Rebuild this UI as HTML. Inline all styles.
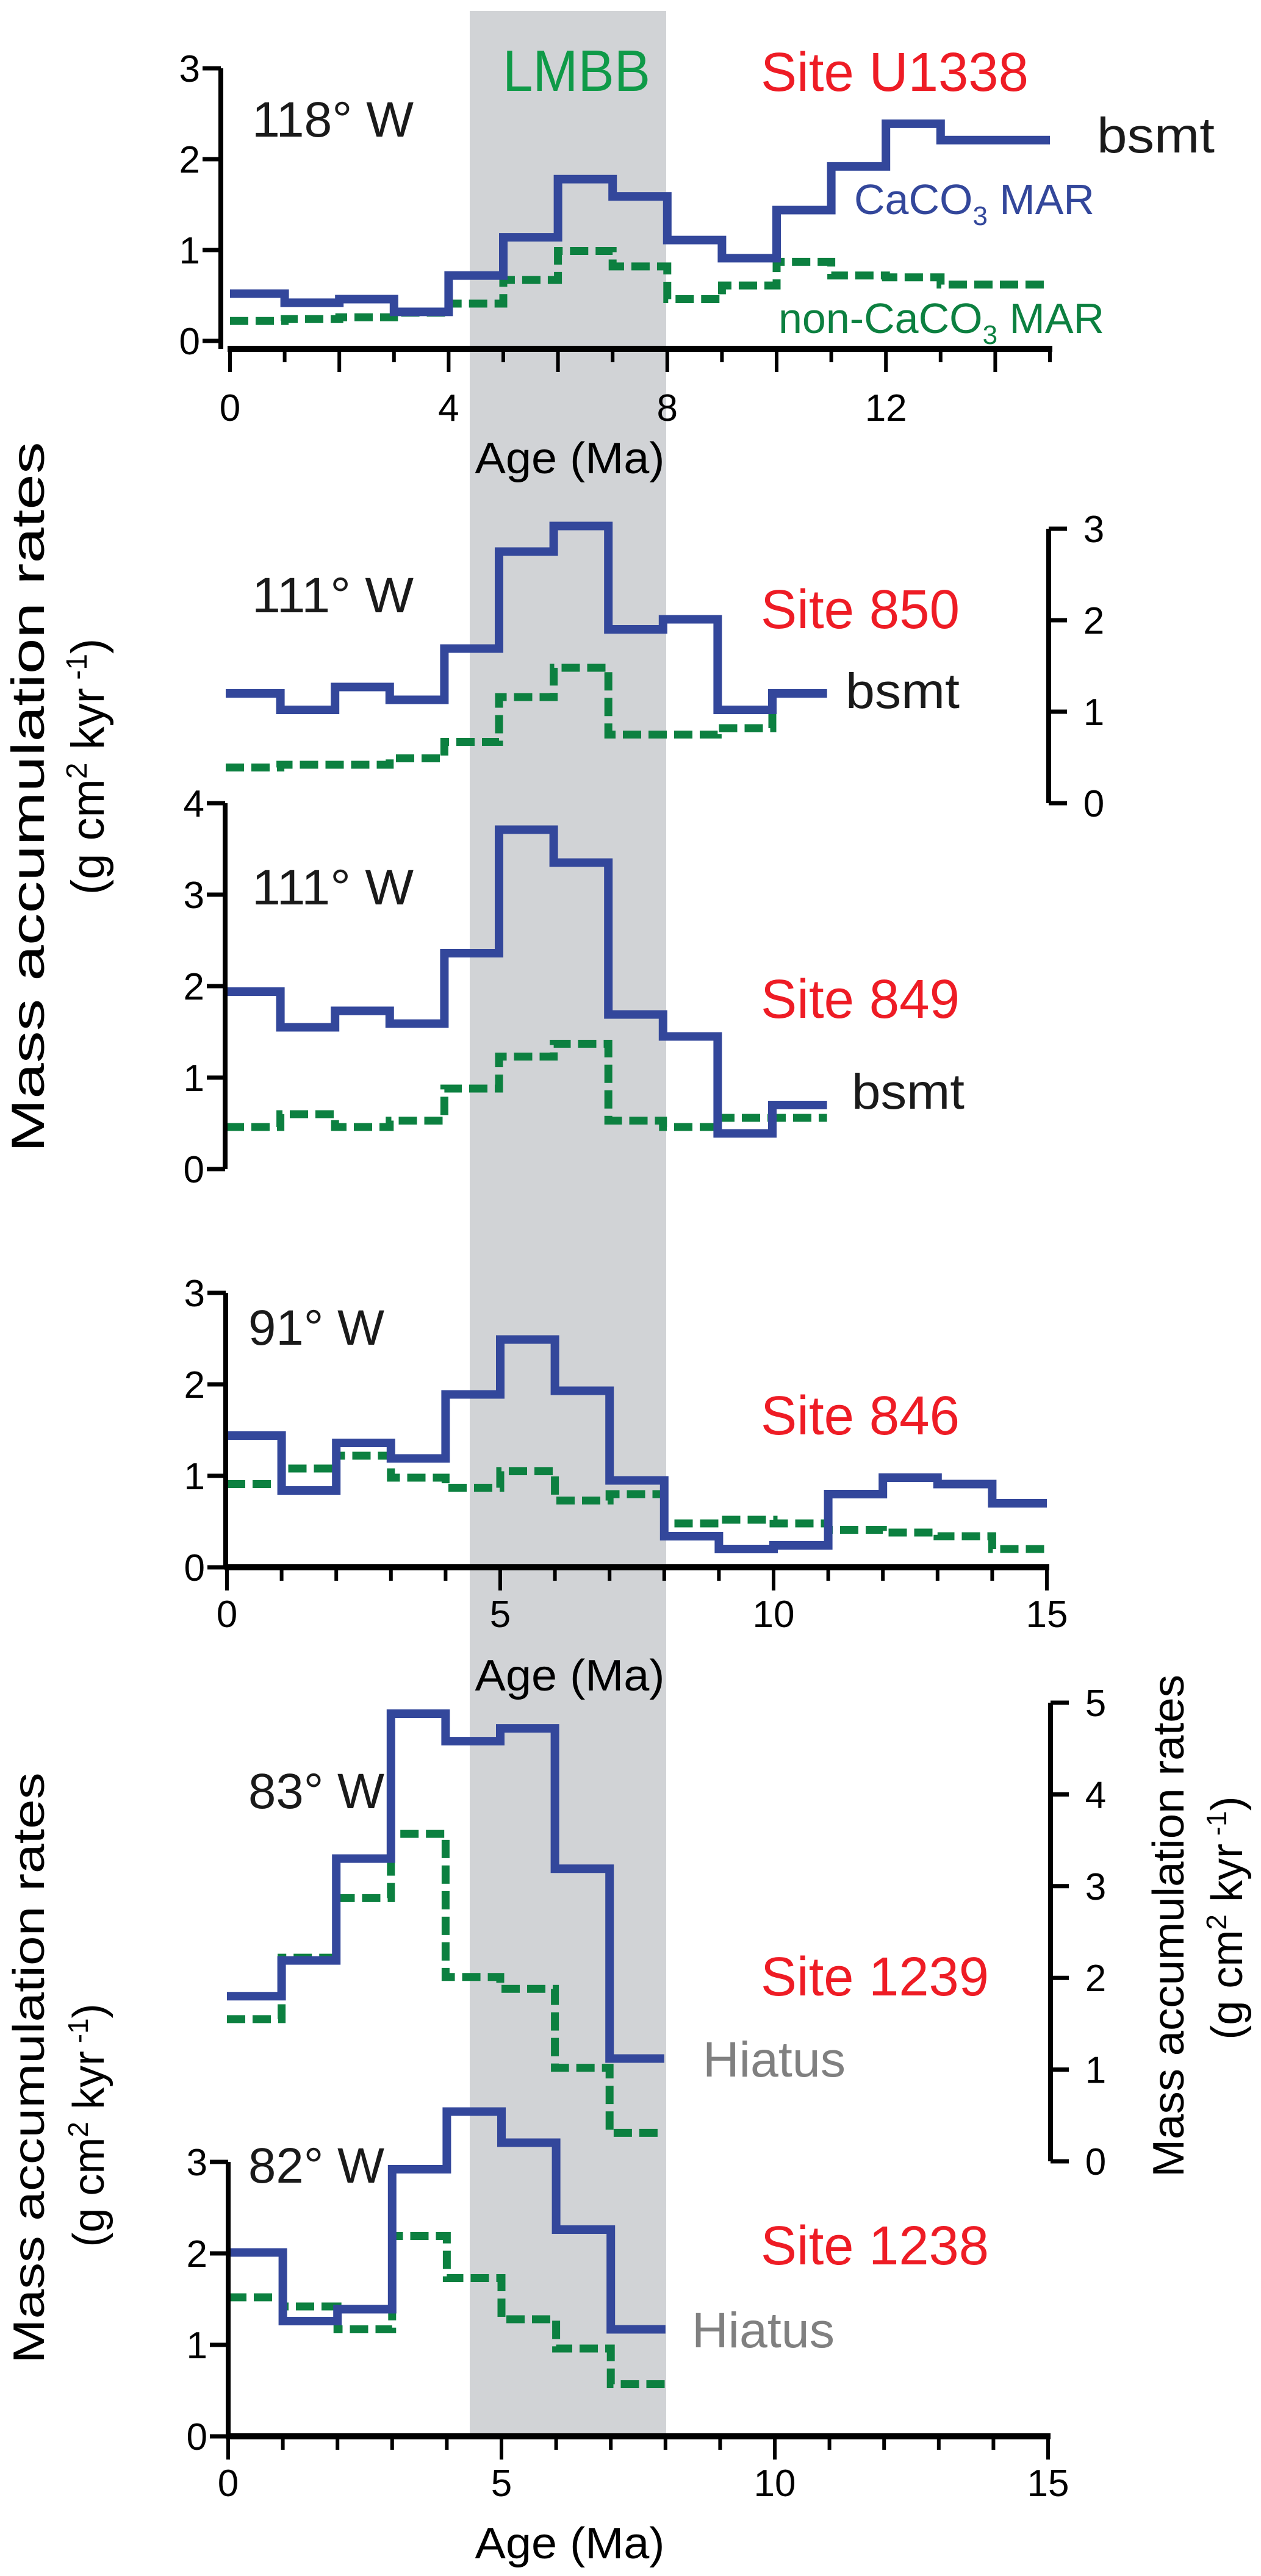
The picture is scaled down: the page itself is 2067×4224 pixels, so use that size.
<!DOCTYPE html>
<html><head><meta charset="utf-8"><style>
html,body{margin:0;padding:0;background:#fff;}
svg{display:block;}
text{font-family:"Liberation Sans",sans-serif;}
</style></head>
<body>
<svg id="fig" xmlns="http://www.w3.org/2000/svg" width="2067" height="4224" viewBox="0 0 2067 4224">
<rect x="770" y="18" width="322" height="3974" fill="#d1d3d6"/>
<g id="marks"></g>
<g id="axes" stroke="#000" fill="none" stroke-width="8"></g>
<g id="labels">
<text x="824" y="149" font-size="96" fill="#0f9a48" textLength="242" lengthAdjust="spacingAndGlyphs">LMBB</text>
<text x="1247" y="149" font-size="90" fill="#ee1c25" textLength="439" lengthAdjust="spacingAndGlyphs">Site U1338</text>
<text x="413" y="224" font-size="82" fill="#1a1a1a" textLength="265" lengthAdjust="spacingAndGlyphs">118° W</text>
<text x="1798" y="250" font-size="82" fill="#1a1a1a" textLength="193" lengthAdjust="spacingAndGlyphs">bsmt</text>
<text x="1400" y="351" font-size="70" fill="#33479b">CaCO<tspan font-size="44" dy="18">3</tspan><tspan dy="-18"> MAR</tspan></text>
<text x="1276" y="546" font-size="70" fill="#0c8040">non-CaCO<tspan font-size="44" dy="18">3</tspan><tspan dy="-18"> MAR</tspan></text>
<text x="934" y="776" font-size="72" text-anchor="middle" fill="#000" textLength="311" lengthAdjust="spacingAndGlyphs">Age (Ma)</text>

<text x="413" y="1004" font-size="82" fill="#1a1a1a" textLength="265" lengthAdjust="spacingAndGlyphs">111° W</text>
<text x="1247" y="1030" font-size="90" fill="#ee1c25" textLength="326" lengthAdjust="spacingAndGlyphs">Site 850</text>
<text x="1386" y="1161" font-size="82" fill="#1a1a1a" textLength="187" lengthAdjust="spacingAndGlyphs">bsmt</text>

<text x="413" y="1483" font-size="82" fill="#1a1a1a" textLength="265" lengthAdjust="spacingAndGlyphs">111° W</text>
<text x="1247" y="1669" font-size="90" fill="#ee1c25" textLength="326" lengthAdjust="spacingAndGlyphs">Site 849</text>
<text x="1396" y="1818" font-size="82" fill="#1a1a1a" textLength="185" lengthAdjust="spacingAndGlyphs">bsmt</text>

<text x="407" y="2205" font-size="82" fill="#1a1a1a" textLength="223" lengthAdjust="spacingAndGlyphs">91° W</text>
<text x="1247" y="2352" font-size="90" fill="#ee1c25" textLength="326" lengthAdjust="spacingAndGlyphs">Site 846</text>
<text x="934" y="2772" font-size="72" text-anchor="middle" fill="#000" textLength="311" lengthAdjust="spacingAndGlyphs">Age (Ma)</text>

<text x="407" y="2965" font-size="82" fill="#1a1a1a" textLength="223" lengthAdjust="spacingAndGlyphs">83° W</text>
<text x="1247" y="3272" font-size="90" fill="#ee1c25" textLength="374" lengthAdjust="spacingAndGlyphs">Site 1239</text>
<text x="1152" y="3405" font-size="82" fill="#808080" textLength="234" lengthAdjust="spacingAndGlyphs">Hiatus</text>

<text x="407" y="3579" font-size="82" fill="#1a1a1a" textLength="223" lengthAdjust="spacingAndGlyphs">82° W</text>
<text x="1247" y="3713" font-size="90" fill="#ee1c25" textLength="374" lengthAdjust="spacingAndGlyphs">Site 1238</text>
<text x="1134" y="3849" font-size="82" fill="#808080" textLength="234" lengthAdjust="spacingAndGlyphs">Hiatus</text>
<text x="934" y="4195" font-size="72" text-anchor="middle" fill="#000" textLength="311" lengthAdjust="spacingAndGlyphs">Age (Ma)</text>

<text transform="translate(72,1307) rotate(-90)" font-size="76" text-anchor="middle" textLength="1165" lengthAdjust="spacingAndGlyphs">Mass accumulation rates</text>
<text transform="translate(170,1257) rotate(-90)" font-size="76" text-anchor="middle">(g  cm<tspan font-size="48" dy="-28">2</tspan><tspan dy="28"> kyr</tspan><tspan font-size="48" dy="-28"> -1</tspan><tspan dy="28">)</tspan></text>
<text transform="translate(72,3391) rotate(-90)" font-size="72" text-anchor="middle" textLength="969" lengthAdjust="spacingAndGlyphs">Mass accumulation rates</text>
<text transform="translate(170,3485) rotate(-90)" font-size="72" text-anchor="middle">(g  cm<tspan font-size="46" dy="-26">2</tspan><tspan dy="26"> kyr</tspan><tspan font-size="46" dy="-26"> -1</tspan><tspan dy="26">)</tspan></text>
<text transform="translate(1940,3158) rotate(-90)" font-size="72" text-anchor="middle" textLength="824" lengthAdjust="spacingAndGlyphs">Mass accumulation rates</text>
<text transform="translate(2036,3145) rotate(-90)" font-size="72" text-anchor="middle">(g  cm<tspan font-size="46" dy="-26">2</tspan><tspan dy="26"> kyr</tspan><tspan font-size="46" dy="-26"> -1</tspan><tspan dy="26">)</tspan></text>
</g>
<g id="ticklabels"></g>
</svg>
<script>
// ---- data (values in g cm-2 kyr-1 for 1-Myr bins starting at age 0) ----
const u1338Caco3 = [0.52,0.42,0.46,0.32,0.72,1.14,1.78,1.59,1.11,0.91,1.44,1.92,2.39,2.21,2.21];
const u1338NonCaco3 = [0.22,0.24,0.26,0.31,0.41,0.67,0.99,0.82,0.46,0.61,0.87,0.72,0.70,0.62,0.62];
const s850Caco3 = [1.20,1.02,1.27,1.13,1.69,2.75,3.03,1.90,2.01,1.02,1.20];
const s850NonCaco3 = [0.39,0.42,0.42,0.49,0.67,1.16,1.48,0.75,0.75,0.82,1.20];
const s849Caco3 = [1.94,1.55,1.73,1.59,2.36,3.71,3.35,1.69,1.45,0.39,0.70];
const s849NonCaco3 = [0.46,0.60,0.46,0.53,0.88,1.23,1.37,0.53,0.46,0.56,0.56];
const s846Caco3 = [1.44,0.84,1.36,1.19,1.89,2.49,1.93,0.95,0.34,0.20,0.24,0.80,0.98,0.91,0.70];
const s846NonCaco3 = [0.91,1.08,1.22,0.98,0.87,1.05,0.73,0.80,0.48,0.52,0.48,0.41,0.38,0.34,0.20];
const s1239Caco3 = [1.80,2.19,3.30,4.88,4.58,4.72,3.19,1.12];
const s1239NonCaco3 = [1.55,2.22,2.87,3.57,2.01,1.88,1.02,0.31];
const s1238Caco3 = [2.01,1.26,1.39,2.92,3.55,3.21,2.26,1.17];
const s1238NonCaco3 = [1.52,1.42,1.17,2.19,1.73,1.28,0.96,0.57];
const topXTicks = [0,4,8,12];
const ageXTicks = [0,5,10,15];

const NS='http://www.w3.org/2000/svg';
const PX_PER_MA=89.6;
function mk(tag,attrs,parent){const e=document.createElementNS(NS,tag);for(const k in attrs)e.setAttribute(k,attrs[k]);parent.appendChild(e);return e;}
const marks=document.getElementById('marks'), axes=document.getElementById('axes'), tl=document.getElementById('ticklabels');

const panels=[
 {id:'u1338',x0:377,y0:559,unit:149,c:u1338Caco3,n:u1338NonCaco3},
 {id:'850',x0:370,y0:1317,unit:150,c:s850Caco3,n:s850NonCaco3},
 {id:'849',x0:370,y0:1917,unit:150,c:s849Caco3,n:s849NonCaco3},
 {id:'846',x0:372,y0:2570,unit:150,c:s846Caco3,n:s846NonCaco3},
 {id:'1239',x0:372,y0:3544,unit:150.4,c:s1239Caco3,n:s1239NonCaco3},
 {id:'1238',x0:374,y0:3995,unit:150,c:s1238Caco3,n:s1238NonCaco3}
];
function stepPath(p,vals){
  const xs=a=>p.x0+a*PX_PER_MA, ys=v=>p.y0-v*p.unit;
  let d='M'+xs(0)+' '+ys(vals[0]);
  for(let i=0;i<vals.length;i++){
    if(i>0)d+=' V'+ys(vals[i]);
    d+=' H'+xs(i+1);
  }
  return d;
}
panels.forEach(p=>{
  const g=mk('path',{d:stepPath(p,p.n),stroke:'#0c8040','stroke-width':13,fill:'none','stroke-dasharray':'30 12'},marks);
  
  
  const b=mk('path',{d:stepPath(p,p.c),stroke:'#33479b','stroke-width':14,fill:'none'},marks);
  
  
});

function yAxis(name,x,y0,unit,max,side){
  const top=y0-max*unit;
  const a=mk('line',{x1:x,y1:top,x2:x,y2:y0},axes);
  
  
  for(let v=0;v<=max;v++){
    const y=y0-v*unit;
    const x2=side==='left'?x-30:x+30;
    mk('line',{x1:x,y1:y,x2:x2,y2:y,'stroke-width':7},axes);
    const t=mk('text',{x:side==='left'?x-34:x+74,y:y+22,'font-size':62,'text-anchor':side==='left'?'end':'middle',fill:'#000'},tl);
    
    
    t.textContent=v;
  }
}
function xAxis(name,x0,y,labels,majorEvery,labelY){
  const a=mk('line',{x1:x0-4,y1:y,x2:x0+15*PX_PER_MA+4,y2:y,'stroke-width':10},axes);
  
  
  for(let m=0;m<=15;m++){
    const x=x0+m*PX_PER_MA;
    const major=m%majorEvery===0;
    mk('line',{x1:x,y1:y,x2:x,y2:y+(major?38:22),'stroke-width':6},axes);
  }
  labels.forEach(v=>{
    const t=mk('text',{x:x0+v*PX_PER_MA,y:labelY,'font-size':62,'text-anchor':'middle',fill:'#000'},tl);
    
    
    t.textContent=v;
  });
}
// top panel
yAxis('y-axis-u1338',362,559,149,3,'left');
mk('line',{x1:362,y1:559,x2:362,y2:572},axes);
xAxis('x-axis-top',377,572,topXTicks,2,690);
// 850 right axis
yAxis('y-axis-850',1719,1317,150,3,'right');
// 849 left axis
yAxis('y-axis-849',369,1917,150,4,'left');
// 846
yAxis('y-axis-846',370,2570,150,3,'left');
xAxis('x-axis-middle',372,2570,ageXTicks,5,2668);
// 1239 right
yAxis('y-axis-1239',1722,3544,150.4,5,'right');
// 1238
yAxis('y-axis-1238',374,3995,150,3,'left');
xAxis('x-axis-bottom',374,3995,ageXTicks,5,4093);
</script>
</body></html>
